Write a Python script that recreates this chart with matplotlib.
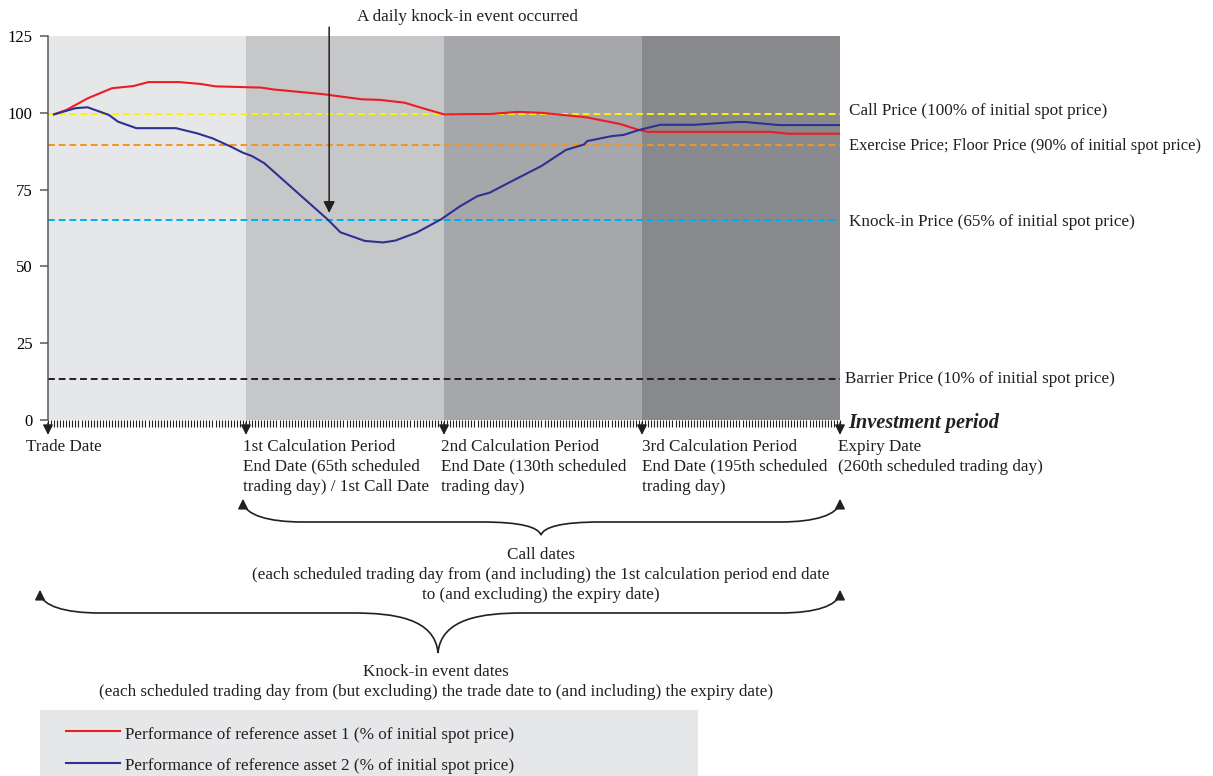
import matplotlib
matplotlib.use('Agg')
import matplotlib.pyplot as plt
from matplotlib.path import Path
from matplotlib.patches import PathPatch, Rectangle

plt.rcParams['font.family'] = ['Liberation Serif', 'DejaVu Serif']

# trading days / % of initial spot
red_days = [2, 6, 13, 21, 28, 33, 43, 50, 55, 63, 70, 74, 90, 103, 109, 117, 123, 130,
            140, 145, 154, 162, 168, 177, 188, 194, 197, 207, 237, 243, 260]
red_vals = [99.5, 100.9, 104.7, 108.0, 108.7, 110.0, 110.0, 109.4, 108.6, 108.4, 108.2, 107.6,
            106.1, 104.4, 104.2, 103.3, 101.5, 99.5, 99.6, 99.6, 100.3, 100.0, 99.4, 98.5,
            96.3, 94.4, 93.8, 93.8, 93.8, 93.2, 93.2]

blue_days = [2, 9, 13, 20, 23, 29, 42, 49, 54, 60, 64, 67, 71, 76, 92, 96, 104, 110, 114,
             121, 129, 135, 141, 145, 151, 162, 170, 176, 177, 185, 189, 194, 201, 212,
             226, 229, 240, 260]
blue_vals = [99.5, 101.5, 101.8, 99.3, 97.1, 95.0, 95.0, 93.3, 91.7, 89.0, 87.0, 85.9, 83.6,
             79.2, 65.1, 61.1, 58.3, 57.8, 58.4, 61.0, 65.3, 69.4, 72.9, 74.0, 77.1, 82.7,
             87.9, 89.7, 90.8, 92.4, 92.8, 94.4, 96.1, 96.1, 97.0, 97.0, 96.0, 96.0]

period_ends = [0, 65, 130, 195, 260]
band_colors = ['#e6e7e8', '#c6c7c9', '#a6a7aa', '#88898c']

levels = [99.5, 89.5, 65.0, 13.3]
level_colors = ['#fff200', '#f7941d', '#00aeef', '#231f20']
level_labels = ['Call Price (100% of initial spot price)',
                'Exercise Price; Floor Price (90% of initial spot price)',
                'Knock-in Price (65% of initial spot price)',
                'Barrier Price (10% of initial spot price)']

date_labels = ['Trade Date',
               '1st Calculation Period\nEnd Date (65th scheduled\ntrading day) / 1st Call Date',
               '2nd Calculation Period\nEnd Date (130th scheduled\ntrading day)',
               '3rd Calculation Period\nEnd Date (195th scheduled\ntrading day)',
               'Expiry Date\n(260th scheduled trading day)']

FS = 12.3
LS = 1.32
INK = '#231f20'
W, H = 1213, 776
fig = plt.figure(figsize=(W / 100, H / 100), dpi=100)
ax = fig.add_axes([48 / W, 1 - 420 / H, 792 / W, 384 / H])

for i in range(4):
    ax.axvspan(period_ends[i], period_ends[i + 1], color=band_colors[i], lw=0, zorder=0)

for lv, c in zip(levels, level_colors):
    ax.plot([0, 260], [lv, lv], color=c, lw=1.4, dashes=(3.5, 2), zorder=2)

ax.plot(red_days, red_vals, color='#ed1c24', lw=1.5, zorder=3)
ax.plot(blue_days, blue_vals, color='#2e3192', lw=1.5, zorder=3)

ax.set_xlim(0, 260)
ax.set_ylim(0, 125)
ax.set_yticks([0, 25, 50, 75, 100, 125])
ax.set_xticks(range(0, 261), minor=True)
ax.set_xticks([])
ax.tick_params(axis='y', length=6, width=1.1, color='#58595b', pad=5, labelsize=12)
ax.tick_params(axis='x', which='minor', length=5, width=0.8, color=INK, direction='out')
for s in ['top', 'right']:
    ax.spines[s].set_visible(False)
ax.spines['left'].set_color('#58595b')
ax.spines['left'].set_linewidth(1.1)
ax.spines['bottom'].set_visible(False)

# arrows at the period boundaries
for d in period_ends:
    ax.annotate('', xy=(d, -0.046), xytext=(d, 0), xycoords=ax.get_xaxis_transform(),
                arrowprops=dict(arrowstyle='-|>', color=INK, lw=1.0,
                                mutation_scale=15), annotation_clip=False)

# knock-in event arrow
ax.annotate('', xy=(92.3, 66.5), xytext=(92.3, 128.8),
            arrowprops=dict(arrowstyle='-|>', color=INK, lw=1.1, mutation_scale=17),
            annotation_clip=False)

# overlay in pixel coordinates for the text and braces
ov = fig.add_axes([0, 0, 1, 1])
ov.set_xlim(0, W)
ov.set_ylim(H, 0)
ov.axis('off')
ov.patch.set_alpha(0)

ov.text(467, 17, 'A daily knock-in event occurred', fontsize=FS, ha='center', va='center',
        color=INK)

label_y = [111, 146, 222, 379]
label_x = [849, 849, 849, 845]
label_fs = [FS, 11.9, FS, FS]
for x, y, t, f in zip(label_x, label_y, level_labels, label_fs):
    ov.text(x, y, t, fontsize=f, ha='left', va='center', color=INK)

ov.text(848, 423, 'Investment period', fontsize=14.7, fontweight='bold', fontstyle='italic',
        ha='left', va='center', color=INK)

date_x = [26, 243, 441, 642, 838]
for x, t in zip(date_x, date_labels):
    ov.text(x, 439, t, fontsize=FS, ha='left', va='top', linespacing=LS, color=INK)


def brace(x0, x1, xc, ytip, ybot, ycen, flat):
    verts = [(x0, ytip), (x0 + 2, ybot - 7), (x0 + 25, ybot), (x0 + 60, ybot),
             (xc - flat, ybot),
             (xc - flat + 40, ybot), (xc - 3, ybot + 5), (xc, ycen),
             (xc + 3, ybot + 5), (xc + flat - 40, ybot), (xc + flat, ybot),
             (x1 - 60, ybot),
             (x1 - 25, ybot), (x1 - 2, ybot - 7), (x1, ytip)]
    codes = [Path.MOVETO, Path.CURVE4, Path.CURVE4, Path.CURVE4,
             Path.LINETO,
             Path.CURVE4, Path.CURVE4, Path.CURVE4,
             Path.CURVE4, Path.CURVE4, Path.CURVE4,
             Path.LINETO,
             Path.CURVE4, Path.CURVE4, Path.CURVE4]
    ov.add_patch(PathPatch(Path(verts, codes), fill=False, ec=INK, lw=1.2))
    for x in (x0, x1):
        ov.annotate('', xy=(x, ytip - 6), xytext=(x, ytip + 6),
                    arrowprops=dict(arrowstyle='-|>', color=INK, lw=1.1,
                                    mutation_scale=15))


brace(243, 840, 541, 502, 522, 535, 60)
brace(40, 840, 438, 593, 613, 653, 85)

ov.text(541, 547, 'Call dates\n(each scheduled trading day from (and including) the 1st '
        'calculation period end date\nto (and excluding) the expiry date)',
        fontsize=FS, ha='center', va='top', linespacing=LS, color=INK)
ov.text(436, 664, 'Knock-in event dates\n(each scheduled trading day from (but excluding) '
        'the trade date to (and including) the expiry date)',
        fontsize=FS, ha='center', va='top', linespacing=LS, color=INK)

# legend box
ov.add_patch(Rectangle((40, 710), 658, 70, color='#e6e7e8', lw=0, zorder=0))
ov.plot([66, 120], [731, 731], color='#ed1c24', lw=1.5)
ov.plot([66, 120], [763, 763], color='#2e3192', lw=1.5)
ov.text(125, 735, 'Performance of reference asset 1 (% of initial spot price)', fontsize=FS,
        ha='left', va='center', color=INK)
ov.text(125, 766, 'Performance of reference asset 2 (% of initial spot price)', fontsize=FS,
        ha='left', va='center', color=INK)

fig.savefig('out.png', dpi=100)
